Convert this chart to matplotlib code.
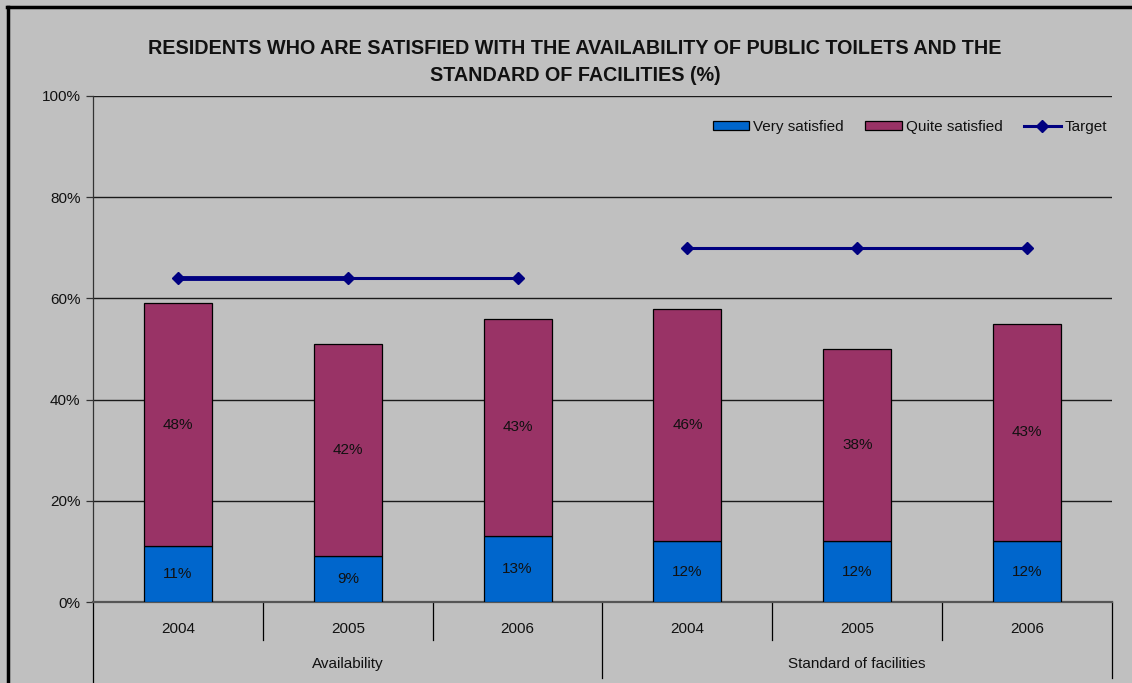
import matplotlib
matplotlib.use("Agg")
import matplotlib.pyplot as plt
import matplotlib.transforms as mtransforms
from matplotlib.lines import Line2D
import numpy as np

groups = ["Availability", "Standard of facilities"]
years = ["2004", "2005", "2006", "2004", "2005", "2006"]
very_satisfied = [11, 9, 13, 12, 12, 12]
quite_satisfied = [48, 42, 43, 46, 38, 43]
target = [64, 64, 64, 70, 70, 70]

FONT = ["Liberation Sans Narrow", "Liberation Sans", "DejaVu Sans"]
plt.rcParams["font.family"] = FONT

BG = "#C0C0C0"
C_VERY = "#0066CC"
C_QUITE = "#993366"
C_TARGET = "#000080"
TXT = "#111111"

fig = plt.figure(figsize=(11.32, 6.83), dpi=100, facecolor=BG)
ax = fig.add_axes([93/1132, 1-602/683, (1112-93)/1132, (602-96)/683])
ax.set_facecolor(BG)

x = np.arange(len(years))
w = 0.4
b1 = ax.bar(x, very_satisfied, w, color=C_VERY, edgecolor="black", linewidth=0.9,
            label="Very satisfied", zorder=3)
b2 = ax.bar(x, quite_satisfied, w, bottom=very_satisfied, color=C_QUITE,
            edgecolor="black", linewidth=0.9, label="Quite satisfied", zorder=3)

for xi, v, q in zip(x, very_satisfied, quite_satisfied):
    ax.text(xi, v/2, f"{v}%", ha="center", va="center", fontsize=11, color=TXT, zorder=5)
    ax.text(xi, v + q/2, f"{q}%", ha="center", va="center", fontsize=11, color=TXT, zorder=5)

# target lines per group
ax.plot(x[:3], target[:3], color=C_TARGET, lw=2.2, marker="D", ms=6, zorder=4, label="Target")
ax.plot(x[:2], target[:2], color=C_TARGET, lw=3.5, zorder=4)
ax.plot(x[3:], target[3:], color=C_TARGET, lw=2.2, marker="D", ms=6, zorder=4)

ax.set_xlim(-0.5, 5.5)
ax.set_ylim(0, 100)
ax.set_yticks([0, 20, 40, 60, 80, 100])
ax.set_yticklabels([f"{v}%" for v in [0, 20, 40, 60, 80, 100]], fontsize=11, color=TXT)
ax.yaxis.grid(True, color="#1a1a1a", lw=1.0, zorder=0)
ax.tick_params(axis="y", length=5, width=0.9, color="#333333", pad=4)
for s in ["top", "right"]:
    ax.spines[s].set_visible(False)
ax.spines["left"].set_color("#333333")
ax.spines["bottom"].set_color("#555555")
ax.spines["bottom"].set_linewidth(1.6)
ax.spines["left"].set_linewidth(0.9)

ax.set_xticks([])
trans = mtransforms.blended_transform_factory(ax.transData, ax.transAxes)
ax_h_px = 602 - 96
for i, yr in enumerate(years):
    ax.text(i, -27/ax_h_px, yr, transform=trans, ha="center", va="center", fontsize=11, color=TXT)
for b in np.arange(-0.5, 6, 1.0):
    depth = 76 if b in (-0.5, 2.5, 5.5) else 38
    if b == -0.5:
        depth = 82
    ax.plot([b, b], [0, -depth/ax_h_px], transform=trans, color="black", lw=0.9, clip_on=False)
for gi, g in enumerate(groups):
    ax.text(gi*3 + 1, -62/ax_h_px, g, transform=trans, ha="center", va="center", fontsize=11, color=TXT)

handles = [b1, b2, Line2D([], [], color=C_TARGET, lw=2.2, marker="D", ms=6)]
labels = ["Very satisfied", "Quite satisfied", "Target"]
leg = ax.legend(handles, labels, loc="upper right", bbox_to_anchor=(1.004, 0.971), ncol=3,
                frameon=False, fontsize=11, handlelength=2.4, handleheight=0.6,
                columnspacing=1.4, handletextpad=0.25, borderaxespad=0.2)
for t in leg.get_texts():
    t.set_color(TXT)

fig.text(575/1132, 1-62/683,
         "RESIDENTS WHO ARE SATISFIED WITH THE AVAILABILITY OF PUBLIC TOILETS AND THE\nSTANDARD OF FACILITIES (%)",
         ha="center", va="center", fontsize=14.2, fontweight="bold", linespacing=1.5, color=TXT)

# chart area border (left and top visible)
fig.add_artist(Line2D([8/1132, 8/1132], [0, 1-7/683], transform=fig.transFigure, color="black", lw=2.5))
fig.add_artist(Line2D([7/1132, 1.0], [1-7/683, 1-7/683], transform=fig.transFigure, color="black", lw=2.5))

fig.savefig("out.png", dpi=100, facecolor=BG)
